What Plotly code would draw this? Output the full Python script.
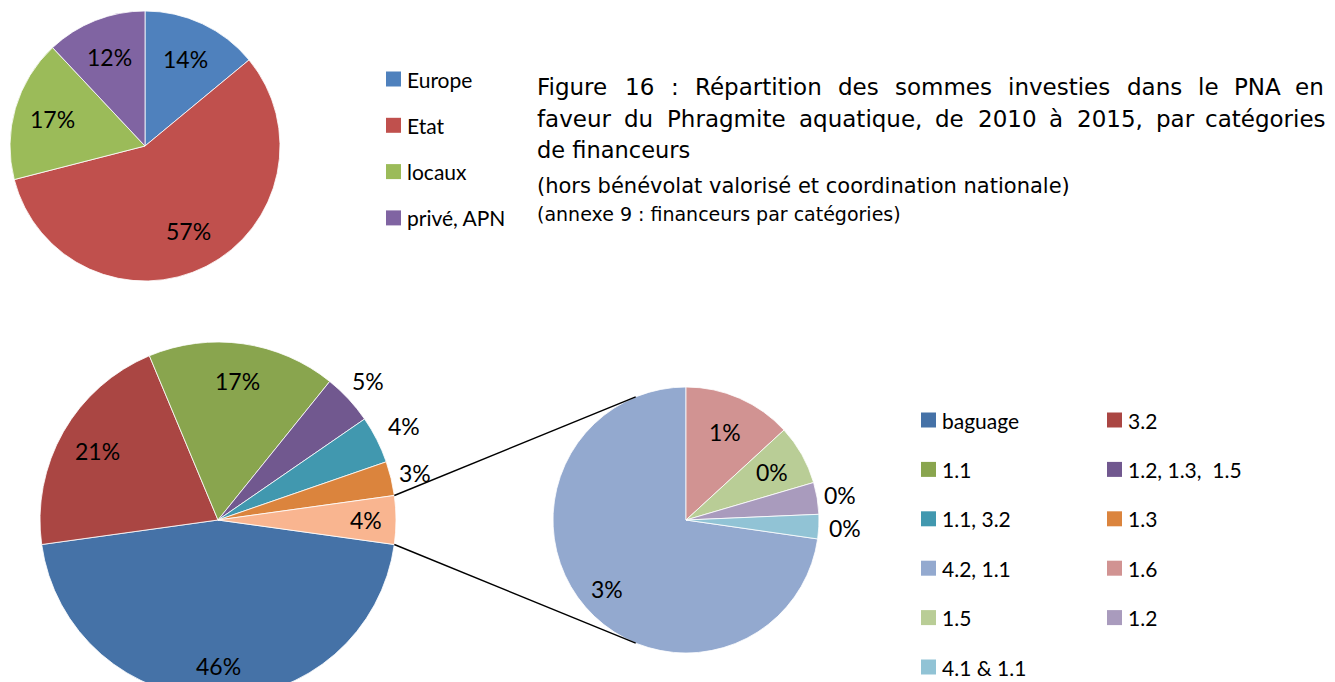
import math
import plotly.graph_objects as go

# Canvas: the lower pie runs off the bottom edge, so the figure is drawn a bit
# taller than the visible 682 px page and the graph div is clipped.
W, H, VISIBLE_H = 1335, 700, 682

# ---- Répartition par catégories de financeurs (%)
fin_labels = ["Europe", "Etat", "locaux", "privé, APN"]
fin_values = [14, 57, 17, 12]
fin_colors = ["#4F81BD", "#C0504D", "#9BBB59", "#8064A2"]

# ---- Répartition par actions (% of total spend)
act_labels = ["baguage", "3.2", "1.1", "1.2, 1.3,\u00a0 1.5", "1.1, 3.2", "1.3"]
act_values = [45.6, 20.9, 17.1, 4.6, 4.3, 3.1]
act_colors = ["#4572A7", "#AA4643", "#89A54E", "#71588F", "#4198AF", "#DB843D"]

# small actions, grouped in the main pie and detailed in the secondary pie
det_labels = ["4.2, 1.1", "1.6", "1.5", "1.2", "4.1 & 1.1"]
det_values = [3.2, 0.58, 0.32, 0.17, 0.13]
det_colors = ["#93A9CF", "#D19392", "#B9CD96", "#A99BBD", "#91C3D5"]
other_color = "#F9B590"

LABEL_FONT = "Lato"
TITLE_FONT = "DejaVu Sans"


def px(x, y):
    """pixel position (origin top-left) -> paper coordinates"""
    return x / W, 1 - y / H


def domain_for(cx, cy, r):
    return dict(x=[(cx - r) / W, (cx + r) / W], y=[1 - (cy + r) / H, 1 - (cy - r) / H])


def label_points(values, rotation, cx, cy, r, fracs):
    total = sum(values)
    start = rotation
    pts = []
    for v, f in zip(values, fracs):
        span = 360.0 * v / total
        mid = math.radians(start + span / 2)
        pts.append((cx + f * r * math.sin(mid), cy - f * r * math.cos(mid)))
        start += span
    return pts


fig = go.Figure()
annotations = []
shapes = []


def add_pie(values, colors, cx, cy, r, rotation, pct_base, fracs, font_size):
    fig.add_trace(go.Pie(
        values=values, labels=[str(i) for i in range(len(values))],
        marker=dict(colors=colors, line=dict(color="white", width=0.8)),
        sort=False, direction="clockwise", rotation=rotation,
        textinfo="none", hoverinfo="skip", showlegend=False,
        domain=domain_for(cx, cy, r),
    ))
    for v, (x, y) in zip(values, label_points(values, rotation, cx, cy, r, fracs)):
        ax, ay = px(x, y)
        annotations.append(dict(
            x=ax, y=ay, xref="paper", yref="paper", showarrow=False,
            text=f"{100 * v / pct_base:.0f}%", xanchor="center", yanchor="middle",
            font=dict(family=LABEL_FONT, size=font_size, color="black"),
        ))


# top pie
fin_total = sum(fin_values)
add_pie(fin_values, fin_colors, 145, 146, 135, 0, fin_total, [0.71] * 4, 23)

# bottom: main pie with the grouped small actions centred on the right side
other_value = sum(det_values)
main_values = act_values + [other_value]
grand_total = sum(main_values)
other_deg = 360.0 * other_value / grand_total
main_rot = 90 + other_deg / 2
MCX, MCY, MR = 218, 520, 178
add_pie(main_values, act_colors + [other_color], MCX, MCY, MR, main_rot, grand_total,
        [0.82, 0.78, 0.79, 1.15, 1.17, 1.14, 0.83], 23)

# secondary pie detailing the grouped slice
SCX, SCY, SR = 686, 520, 133
det_rot = 360.0 * (1 - det_values[0] / other_value)
add_pie(det_values, det_colors, SCX, SCY, SR, det_rot, grand_total,
        [0.79, 0.72, 0.74, 1.17, 1.2], 23)

# connector lines: edges of the grouped slice -> tangents of the secondary pie
for edge_angle, sign in ((main_rot - other_deg, 1), (main_rot, -1)):
    a = math.radians(edge_angle)
    p = (MCX + MR * math.sin(a), MCY - MR * math.cos(a))
    dx, dy = p[0] - SCX, p[1] - SCY
    d = math.hypot(dx, dy)
    phi = math.atan2(dy, dx) + sign * math.acos(SR / d)
    t = (SCX + SR * math.cos(phi), SCY + SR * math.sin(phi))
    x0, y0 = px(*p)
    x1, y1 = px(*t)
    shapes.append(dict(type="line", xref="paper", yref="paper", x0=x0, y0=y0, x1=x1, y1=y1,
                       line=dict(color="black", width=1.5)))


# legends
def legend_entry(label, color, sx, cy, size=15, font_size=21):
    x0, y0 = px(sx, cy - size / 2)
    x1, y1 = px(sx + size, cy + size / 2)
    shapes.append(dict(type="rect", xref="paper", yref="paper", x0=x0, y0=y1, x1=x1, y1=y0,
                       fillcolor=color, line=dict(width=0)))
    tx, ty = px(sx + size + 5, cy)
    annotations.append(dict(x=tx, y=ty, xref="paper", yref="paper", showarrow=False,
                            text=label, xanchor="left", yanchor="middle", borderpad=0,
                            font=dict(family=LABEL_FONT, size=font_size, color="black")))


for i, (lab, col) in enumerate(zip(fin_labels, fin_colors)):
    legend_entry(lab, col, 386, 79 + 46.3 * i)

leg_labels = act_labels + det_labels
leg_colors = act_colors + det_colors
for i, (lab, col) in enumerate(zip(leg_labels, leg_colors)):
    row, colno = divmod(i, 2)
    legend_entry(lab, col, 921 + 186 * colno, 420 + 49.4 * row)

# title, first two lines justified word by word
ADV = {" ": .318, "(": .390, ")": .390, ",": .318, ":": .337, "&": .780,
       "a": .613, "b": .635, "c": .550, "d": .635, "e": .615, "f": .352, "g": .635,
       "h": .634, "i": .278, "l": .278, "m": .974, "n": .634, "o": .612, "p": .635,
       "q": .635, "r": .411, "s": .521, "t": .392, "u": .634, "v": .592, "x": .592,
       "A": .684, "F": .575, "N": .748, "P": .603, "R": .695,
       "é": .615, "à": .613}


def text_w(s, size):
    return size * sum(ADV.get(c, .636) for c in s)


def justified_line(text, left, right, cy, size):
    words = text.split(" ")
    widths = [text_w(w, size) for w in words]
    gap = (right - left - sum(widths)) / (len(words) - 1)
    x = left
    for k, (w, ww) in enumerate(zip(words, widths)):
        last = k == len(words) - 1
        ax, ay = px(right if last else x, cy)
        annotations.append(dict(x=ax, y=ay, xref="paper", yref="paper", showarrow=False,
                                text=w, xanchor="right" if last else "left",
                                yanchor="middle", borderpad=0,
                                font=dict(family=TITLE_FONT, size=size, color="black")))
        x += ww + gap


def plain_line(text, left, cy, size):
    ax, ay = px(left, cy)
    annotations.append(dict(x=ax, y=ay, xref="paper", yref="paper", showarrow=False,
                            text=text, xanchor="left", yanchor="middle", borderpad=0,
                            font=dict(family=TITLE_FONT, size=size, color="black")))


justified_line("Figure 16 : Répartition des sommes investies dans le PNA en", 536, 1325, 87, 23)
justified_line("faveur du Phragmite aquatique, de 2010 à 2015, par catégories", 536, 1327, 119, 23)
plain_line("de financeurs", 536, 150, 22.5)
plain_line("(hors bénévolat valorisé et coordination nationale)", 536, 186, 21)
plain_line("(annexe 9 : financeurs par catégories)", 536, 214, 19)

fig.update_layout(
    width=W, height=H, margin=dict(l=0, r=0, t=0, b=0),
    paper_bgcolor="white", plot_bgcolor="white",
    annotations=annotations, shapes=shapes,
)

fig.write_html(
    "out.html",
    post_script=(
        "var gd=document.getElementById('{plot_id}');"
        f"gd.style.height='{VISIBLE_H}px';gd.style.overflow='hidden';"
        "document.body.style.margin='0';document.body.style.overflow='hidden';"
    ),
)
